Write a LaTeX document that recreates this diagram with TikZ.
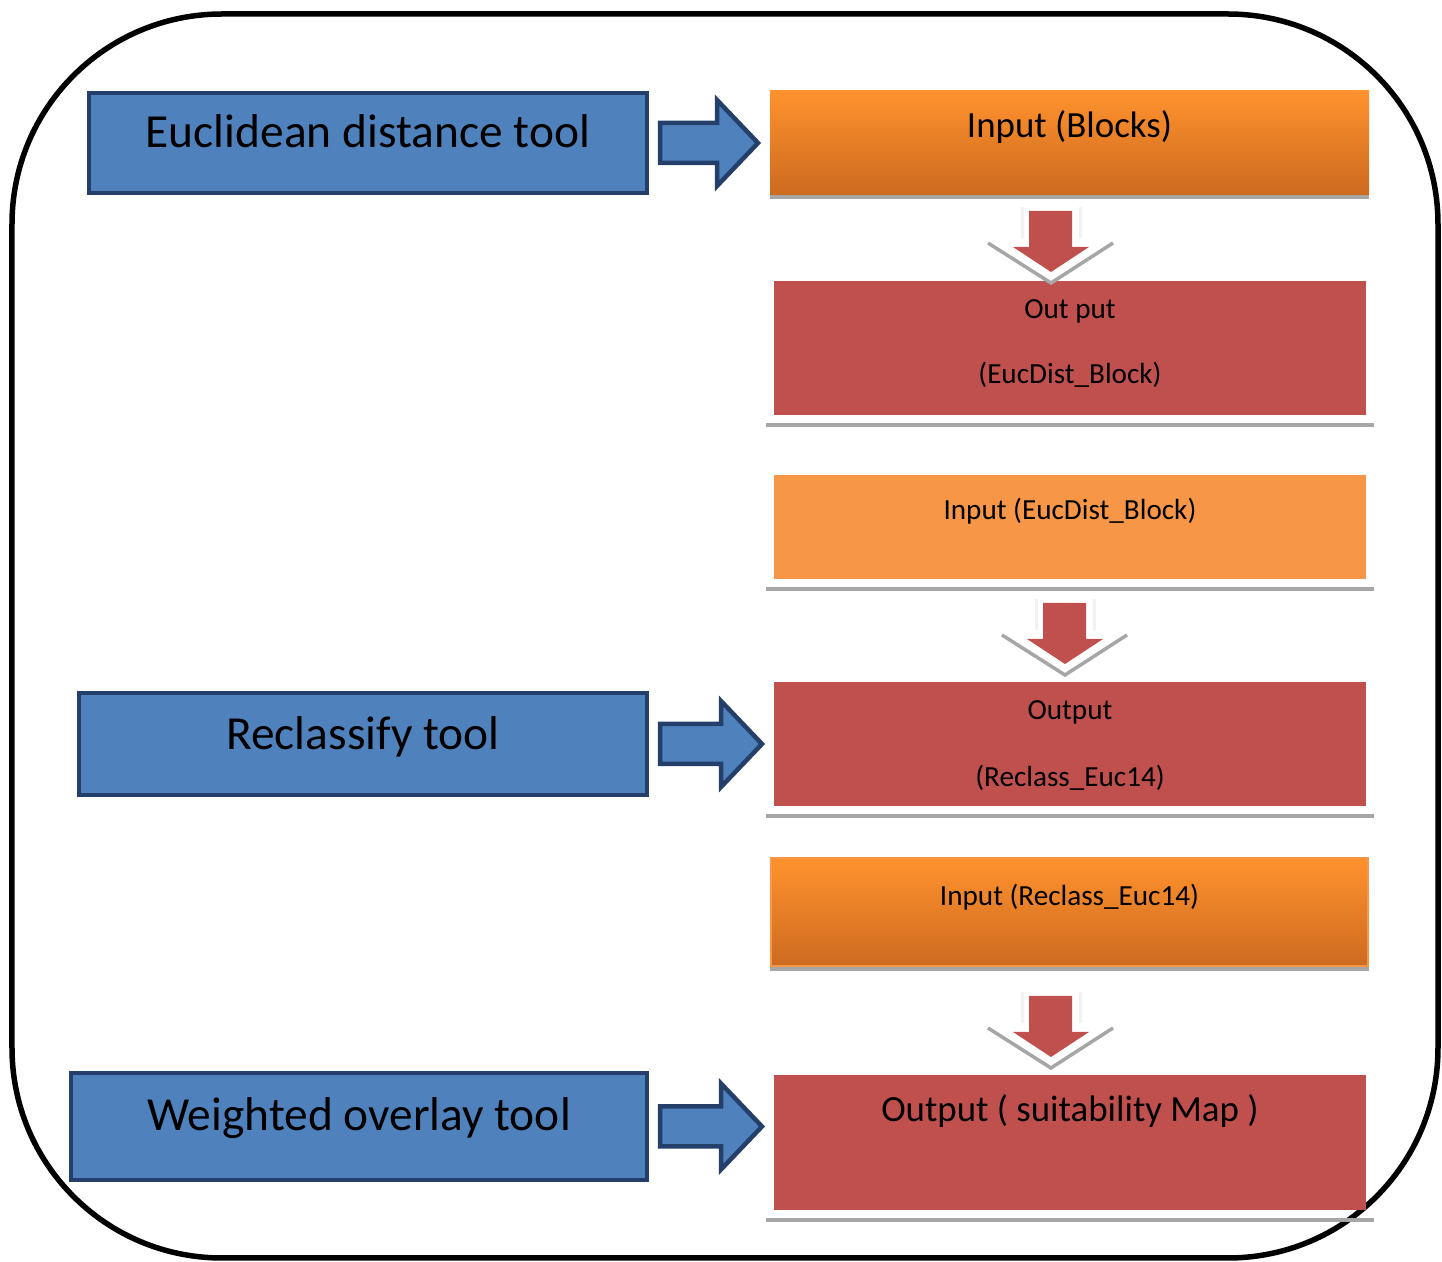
\documentclass[tikz,border=0pt]{standalone}
\usepackage{fontspec}
\setmainfont{Carlito}
\usetikzlibrary{calc}
\definecolor{toolblue}{HTML}{4F81BD}
\definecolor{tooledge}{HTML}{24406A}
\definecolor{outred}{HTML}{C0504D}
\definecolor{inorange}{HTML}{F79646}
\definecolor{orangetop}{HTML}{FF922E}
\definecolor{orangebot}{HTML}{CC6A1F}
\definecolor{shadowgray}{HTML}{A6A6A6}
\tikzset{
	toolbox/.style={draw=tooledge, line width=0.45mm, fill=toolblue, inner sep=0pt, outer sep=0pt},
	outbox/.style={fill=outred, inner sep=0pt, outer sep=0pt, minimum width=5.92cm},
	inbox/.style={fill=inorange, inner sep=0pt, outer sep=0pt, minimum width=5.92cm},
	inshade/.style={top color=orangetop, middle color=orangetop!90!orangebot, bottom color=orangebot, inner sep=0pt, outer sep=0pt, minimum width=5.99cm},
	bigtxt/.style={font=\fontsize{13.5}{16}\selectfont, inner sep=0pt, anchor=base},
	medtxt/.style={font=\fontsize{10.5}{12}\selectfont, inner sep=0pt, anchor=base},
	smalltxt/.style={font=\fontsize{8.3}{10}\selectfont, inner sep=0pt, anchor=base},
	shelf/.style={draw=shadowgray, line width=0.4mm},
	toolarrow/.style={draw=tooledge, line width=0.45mm, fill=toolblue, line join=miter},
	vshadow/.style={draw=shadowgray, line width=0.35mm}
}
% block arrow from a tool to its box
\newcommand\toolarrow[2]{\draw[toolarrow] let \p1=(#1.east), \p2=(#2.west) in
	(\x1+0.13cm,\y1+0.2cm) -- (\x2-0.53cm,\y1+0.2cm) -- (\x2-0.53cm,\y1+0.43cm) -- (\x2-0.12cm,\y1)
	-- (\x2-0.53cm,\y1-0.43cm) -- (\x2-0.53cm,\y1-0.2cm) -- (\x1+0.13cm,\y1-0.2cm) -- cycle;}
% down arrow onto a box, tip shifted by (#2,#3) from its top
\newcommand\flowarrow[3]{
	\coordinate (tip) at ($(#1.north)+(#2,#3)$);
	\draw[gray!10, line width=0.3mm] ($(tip)+(-0.29,0.65)$) -- ++(0,-0.31);
	\draw[gray!10, line width=0.3mm] ($(tip)+(0.29,0.65)$) -- ++(0,-0.31);
	\draw[vshadow] ($(tip)+(-0.63,0.29)$) -- ($(tip)+(0,-0.11)$) -- ($(tip)+(0.62,0.29)$);
	\fill[outred] (tip) -- ++(-0.38,0.25) -- ++(0.16,0) -- ++(0,0.36) -- ++(0.43,0) -- ++(0,-0.36) -- ++(0.17,0) -- cycle;}

\begin{document}
\begin{tikzpicture}
	\useasboundingbox (0,0) rectangle (14.42,-12.62);
	\draw[line width=0.55mm, rounded corners=2.1cm] (0.12,-0.14) rectangle (14.38,-12.58);
	
	% tools
	\node[toolbox, minimum width=5.58cm, minimum height=1.00cm] (euc) at (3.68,-1.43) {};
	\node[toolbox, minimum width=5.68cm, minimum height=1.02cm] (recl) at (3.63,-7.44) {};
	\node[toolbox, minimum width=5.76cm, minimum height=1.07cm] (wov) at (3.59,-11.265) {};
	\node[bigtxt] (teuc) at ($(euc.center)+(0,-0.05)$) {Euclidean distance tool};
	\node[bigtxt] (trecl) at ($(recl.center)+(0,-0.06)$) {Reclassify tool};
	\node[bigtxt] (twov) at ($(wov.center)+(0,-0.04)$) {Weighted overlay tool};
	
	% boxes
	\node[inshade, minimum height=1.04cm] (inblk) at (10.695,-1.43) {};
	\node[outbox, minimum height=1.34cm] (out1) at (10.70,-3.48) {};
	\node[inbox, minimum height=1.04cm] (in2) at (10.70,-5.27) {};
	\node[outbox, minimum height=1.24cm] (out2) at (10.70,-7.44) {};
	\node[inshade, draw=inorange, line width=0.2mm, minimum width=5.97cm, minimum height=1.08cm] (in3) at (10.695,-9.12) {};
	\node[outbox, minimum height=1.35cm] (out3) at (10.70,-11.425) {};
	
	\fill[shadowgray] (inblk.south west) rectangle ($(inblk.south east)+(0,-0.04)$);
	\fill[shadowgray] ($(in3.south west)+(-0.01,-0.01)$) rectangle ($(in3.south east)+(0.01,-0.05)$);
	\foreach \b in {out1,in2,out2,out3}
		\draw[shelf] ($(\b.south west)+(-0.08,-0.10)$) -- ($(\b.south east)+(0.08,-0.10)$);
	
	\node[medtxt] (tinblk) at ($(inblk.north)+(0,-0.47)$) {Input (Blocks)};
	\node[smalltxt] (tout1a) at ($(out1.north)+(0,-0.38)$) {Out put};
	\node[smalltxt] (tout1b) at ($(out1.north)+(0,-1.03)$) {(EucDist\_Block)};
	\node[smalltxt] (tin2) at ($(in2.north)+(0,-0.45)$) {Input (EucDist\_Block)};
	\node[smalltxt] (tout2a) at ($(out2.north)+(0,-0.38)$) {Output};
	\node[smalltxt] (tout2b) at ($(out2.north)+(0,-1.05)$) {(Reclass\_Euc14)};
	\node[smalltxt] (tin3) at ($(in3.north)+(0,-0.48)$) {Input (Reclass\_Euc14)};
	\node[medtxt] (tout3) at ($(out3.north)+(0,-0.47)$) {Output ( suitability Map )};
	
	% arrows
	\toolarrow{euc}{inblk}
	\toolarrow{recl}{out2}
	\toolarrow{wov}{out3}
	\flowarrow{out1}{-0.19}{0.09}
	\flowarrow{out2}{-0.05}{0.18}
	\flowarrow{out3}{-0.19}{0.18}
\end{tikzpicture}
\end{document}
